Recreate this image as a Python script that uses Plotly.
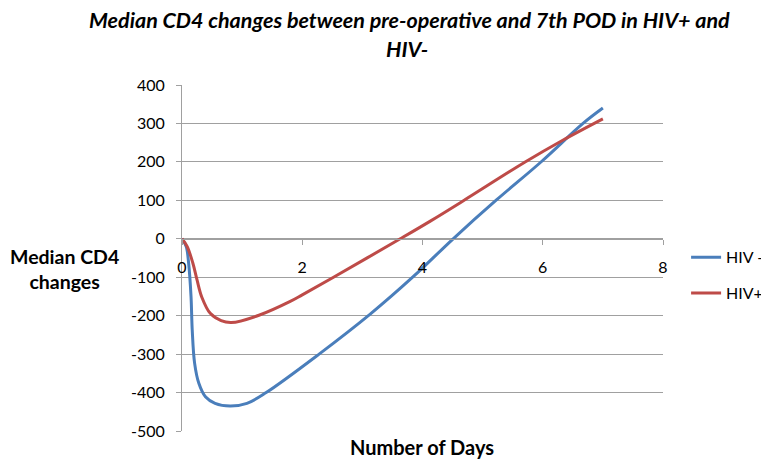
import plotly.graph_objects as go

# Values
hiv_neg_days = [0, 0.07, 0.11, 0.15, 0.17, 0.21, 0.28, 0.39, 0.55, 0.8, 1.08, 1.4, 2.28, 3.13, 3.85, 4.51, 5.23, 5.98, 6.67, 7.0]
hiv_neg_cd4 = [0, -20, -63, -150, -237, -324, -376, -411, -428, -435, -428, -400, -300, -196, -98, 0, 101, 201, 300, 340]

hiv_pos_days = [0, 0.085, 0.18, 0.25, 0.33, 0.47, 0.65, 0.82, 1.28, 1.8, 2.0, 2.52, 3.63, 4.13, 4.68, 5.70, 6.34, 7.0]
hiv_pos_cd4 = [0, -20, -63, -107, -152, -194, -213, -218, -199, -163, -146, -100, 0, 46, 99, 199, 257, 312]

series_names = ["HIV -", "HIV+"]
series_colors = ["#4A7EBB", "#BE4B48"]

x_ticks = [0, 2, 4, 6, 8]
y_ticks = [400, 300, 200, 100, 0, -100, -200, -300, -400, -500]

FONT = "Lato"
GRID = "#A0A0A0"

fig = go.Figure()
for name, xs, ys, col, grp in [
    (series_names[0], hiv_neg_days, hiv_neg_cd4, series_colors[0], "a"),
    (series_names[1], hiv_pos_days, hiv_pos_cd4, series_colors[1], "b"),
]:
    fig.add_trace(go.Scatter(
        x=xs, y=ys, mode="lines", name=name, legendgroup=grp,
        line=dict(color=col, width=3, shape="spline", smoothing=1.0),
    ))

# page body has an 8px margin, so the figure is offset by 8px
fig.update_layout(
    width=769, height=459,
    margin=dict(l=174, r=114, t=77, b=36, autoexpand=False),
    paper_bgcolor="white", plot_bgcolor="white",
    font=dict(family=FONT, color="#000000", size=16),
    showlegend=True,
    legend=dict(
        x=1.048, y=0.45, xanchor="left", yanchor="middle",
        font=dict(family=FONT, size=16),
        tracegroupgap=12, traceorder="grouped",
        bgcolor="rgba(0,0,0,0)",
    ),
    xaxis=dict(
        range=[0, 8], tickvals=x_ticks, ticktext=[str(v) for v in x_ticks],
        showgrid=False, zeroline=False, automargin=False,
        showline=True, linecolor=GRID, linewidth=1,
        ticks="outside", ticklen=5, tickcolor=GRID,
        anchor="free", position=500 / 900,
        ticklabelstandoff=9,
        tickfont=dict(family=FONT, size=16),
    ),
    yaxis=dict(
        range=[-500, 400], tickvals=y_ticks, ticktext=[str(v) for v in y_ticks],
        showgrid=True, gridcolor=GRID, gridwidth=1, zeroline=False, automargin=False,
        showline=True, linecolor=GRID, linewidth=1,
        ticks="outside", ticklen=5, tickcolor=GRID,
        ticklabelstandoff=8,
        tickfont=dict(family=FONT, size=16),
    ),
)

ph = 346.0
def py(pix):
    return (431 - pix) / ph

def px(pix):
    return (pix - 182) / 481.0

fig.add_annotation(text="<b><i>Median CD4 changes between pre-operative and 7th POD in HIV+ and</i></b>",
                   xref="paper", yref="paper", x=px(409), y=py(20), xanchor="center", yanchor="middle",
                   showarrow=False, font=dict(family=FONT, size=21.5))
fig.add_annotation(text="<b><i>HIV-</i></b>",
                   xref="paper", yref="paper", x=px(407), y=py(49), xanchor="center", yanchor="middle",
                   showarrow=False, font=dict(family=FONT, size=21.5))
fig.add_annotation(text="<b>Median CD4<br>changes</b>",
                   xref="paper", yref="paper", x=px(64), y=py(269), xanchor="center", yanchor="middle",
                   showarrow=False, font=dict(family=FONT, size=19.5), align="center")
fig.add_annotation(text="<b>Number of Days</b>",
                   xref="paper", yref="paper", x=px(422), y=py(447), xanchor="center", yanchor="middle",
                   showarrow=False, font=dict(family=FONT, size=20))

fig.write_html("out.html")
